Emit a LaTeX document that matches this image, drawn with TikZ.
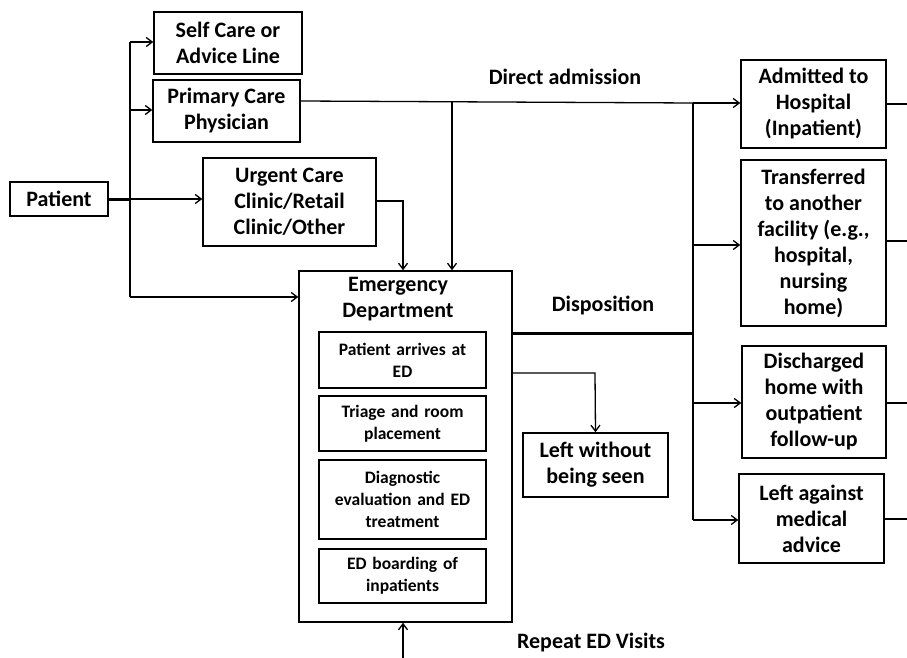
\documentclass[tikz,border=0pt]{standalone}
\usepackage{fontspec}
\setmainfont{Carlito}
\usetikzlibrary{arrows.meta}
\begin{document}
\begin{tikzpicture}[x=1pt,y=-1pt,
  box/.style={draw=black,line width=1.5pt,align=center,font=\bfseries\fontsize{22}{26}\selectfont,inner sep=0pt},
  subbox/.style={draw=black,line width=1.5pt,align=center,font=\bfseries\fontsize{17.5}{22}\selectfont,inner sep=0pt,minimum width=167pt,text width=164pt},
  lbl/.style={font=\bfseries\fontsize{22}{26}\selectfont,inner sep=0pt},
  conn/.style={line width=1.3pt,draw=black},
  thick conn/.style={line width=3pt,draw=black},
  arr/.style={conn,-{Straight Barb[length=6pt,width=9pt,line width=1.3pt]}}]
\useasboundingbox (0,0) rectangle (907,658);
% nodes
\node[box,minimum width=98pt,minimum height=34pt] (pat) at (59,199) {Patient};
\node[box,minimum width=148pt,minimum height=62pt] (self) at (228,43) {Self Care or\\Advice Line};
\node[box,minimum width=147pt,minimum height=62pt] (pcp) at (226.5,111) {Primary Care\\Physician};
\node[box,minimum width=173pt,minimum height=88pt] (uc) at (289.5,202) {Urgent Care\\Clinic/Retail\\Clinic/Other};
\node[box,minimum width=213pt,minimum height=351pt] (ed) at (405.5,446.5) {};
\node[lbl,align=center] (edt) at (398,299.5) {Emergency\\Department};
\node[subbox,minimum height=56pt] (s1) at (402.5,360) {Patient arrives at\\ED};
\node[subbox,minimum height=55pt] (s2) at (402.5,423.5) {Triage and room\\placement};
\node[subbox,minimum height=79pt] (s3) at (402.5,499.5) {Diagnostic\\evaluation and ED\\treatment};
\node[subbox,minimum height=54pt] (s4) at (402.5,576) {ED boarding of\\inpatients};
\node[box,minimum width=145pt,minimum height=64pt] (lwbs) at (595.5,465) {Left without\\being seen};
\node[box,minimum width=145pt,minimum height=88pt] (adm) at (813.5,104) {Admitted to\\Hospital\\(Inpatient)};
\node[box,minimum width=145pt,minimum height=166pt] (tr) at (813.5,243) {Transferred\\to another\\facility (e.g.,\\hospital,\\nursing\\home)};
\node[box,minimum width=144pt,minimum height=112pt] (dis) at (814,402) {Discharged\\home with\\outpatient\\follow-up};
\node[box,minimum width=145pt,minimum height=89pt] (lama) at (811.5,518.5) {Left against\\medical\\advice};
\node[lbl] (ldir) at (565,77) {Direct admission};
\node[lbl] (ldisp) at (603,305) {Disposition};
\node[lbl] (lrep) at (591,643) {Repeat ED Visits};
% coordinates
\coordinate (t0) at (130,199);
\coordinate (t1) at (130,42);
\coordinate (t2) at (130,297);
\coordinate (j0) at (452,102);
\coordinate (j1) at (693,103);
\coordinate (j2) at (693,520);
\coordinate (u1) at (403,201);
\coordinate (w1) at (595,373);
\coordinate (r0) at (403,658);
\coordinate (e1) at (907,104);
\coordinate (e2) at (907,241);
\coordinate (e3) at (907,403);
\coordinate (e4) at (907,519);
% connectors
\draw[thick conn] (pat.east) -- (t0);
\draw[conn] (t1) -- (t2);
\draw[arr] (t1) -- (t1 -| self.west);
\draw[arr] (130,110) -- (pcp.west |- 0,110);
\draw[arr] (t0) -- (uc.west |- t0);
\draw[arr] (t2) -- (ed.west |- t2);
\draw[arr] (uc.east |- u1) -- (u1) -- (u1 |- ed.north);
\draw[conn] (pcp.east |- 0,101) -- (j1);
\draw[arr] (j1) -- (adm.west |- j1);
\draw[arr] (j0) -- (j0 |- ed.north);
\draw[conn] (j1) -- (j2);
\draw[arr] (693,245) -- (tr.west |- 0,245);
\draw[arr] (693,403) -- (dis.west |- 0,403);
\draw[arr] (j2) -- (lama.west |- j2);
\draw[thick conn] (ed.east |- 0,333) -- (693,333);
\draw[arr] (ed.east |- w1) -- (w1) -- (lwbs.north);
\draw[arr] (r0) -- (r0 |- ed.south);
\draw[conn] (adm.east |- e1) -- (e1);
\draw[conn] (tr.east |- e2) -- (e2);
\draw[conn] (dis.east |- e3) -- (e3);
\draw[conn] (lama.east |- e4) -- (e4);
\end{tikzpicture}
\end{document}
